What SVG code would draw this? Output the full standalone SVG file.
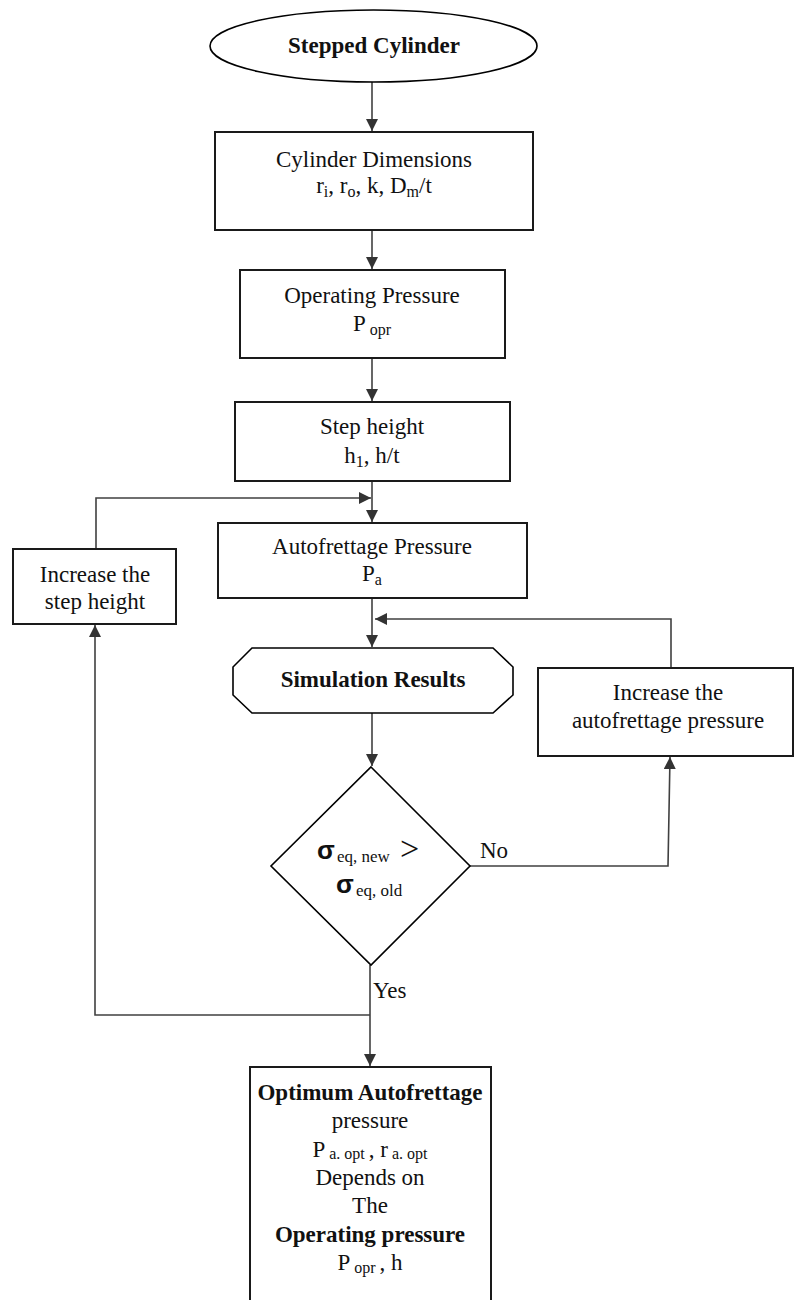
<svg xmlns="http://www.w3.org/2000/svg" width="794" height="1300" viewBox="0 0 794 1300">
<style>
.box{fill:#fff;stroke:#1a1a1a;stroke-width:2}
.shape{fill:#fff;stroke:#000;stroke-width:1.6}
.con{fill:none;stroke:#404040;stroke-width:1.6}
.t{font-family:"Liberation Serif","Times New Roman",serif;font-size:23px;fill:#111;text-anchor:middle}
.b{font-weight:bold}
.sub{font-size:16px}
.sig{font-family:"Liberation Sans",Arial,sans-serif;font-weight:bold;font-size:26px;fill:#111}
.st{font-family:"Liberation Serif","Times New Roman",serif;font-size:17px;fill:#111}
</style>
<defs>
<marker id="ah" viewBox="0 0 12 12" refX="12" refY="6" markerWidth="12" markerHeight="12" markerUnits="userSpaceOnUse" orient="auto">
<path d="M0,0 L12,6 L0,12 z" fill="#333"/>
</marker>
</defs>
<rect width="794" height="1300" fill="#fff"/>

<g id="connectors">
<line class="con" x1="372" y1="82" x2="372" y2="131" marker-end="url(#ah)"/>
<line class="con" x1="372" y1="230" x2="372" y2="269" marker-end="url(#ah)"/>
<line class="con" x1="372" y1="358" x2="372" y2="401" marker-end="url(#ah)"/>
<line class="con" x1="372" y1="481" x2="372" y2="522" marker-end="url(#ah)"/>
<polyline class="con" points="96,549 96,498 371,498" marker-end="url(#ah)"/>
<line class="con" x1="372" y1="598" x2="372" y2="647" marker-end="url(#ah)"/>
<polyline class="con" points="671,668 671,619 375,619" marker-end="url(#ah)"/>
<line class="con" x1="372" y1="713" x2="372" y2="766" marker-end="url(#ah)"/>
<polyline class="con" points="470,866 668,866 670,757" marker-end="url(#ah)"/>
<line class="con" x1="370" y1="965" x2="370" y2="1066" marker-end="url(#ah)"/>
<polyline class="con" points="370,1015 95,1015 95,625" marker-end="url(#ah)"/>
</g>

<g id="start">
<ellipse class="shape" cx="373.5" cy="46" rx="163.5" ry="36"/>
<text class="t b" x="374" y="53">Stepped Cylinder</text>
</g>

<g id="cyl-dim">
<rect class="box" x="215" y="132" width="318" height="98"/>
<text class="t" x="374" y="167">Cylinder Dimensions</text>
<text class="t" x="374" y="193">r<tspan class="sub" dy="4">i</tspan><tspan dy="-4">, r</tspan><tspan class="sub" dy="4">o</tspan><tspan dy="-4">, k, D</tspan><tspan class="sub" dy="4">m</tspan><tspan dy="-4">/t</tspan></text>
</g>

<g id="op-pressure">
<rect class="box" x="240" y="270" width="265" height="88"/>
<text class="t" x="372" y="303">Operating Pressure</text>
<text class="t" x="372" y="331">P<tspan class="sub" dy="4"> opr</tspan></text>
</g>

<g id="step-height">
<rect class="box" x="235" y="402" width="275" height="79"/>
<text class="t" x="372" y="434">Step height</text>
<text class="t" x="372" y="463">h<tspan class="sub" dy="4">1</tspan><tspan dy="-4">, h/t</tspan></text>
</g>

<g id="autofrettage">
<rect class="box" x="218" y="523" width="309" height="75"/>
<text class="t" x="372" y="554">Autofrettage Pressure</text>
<text class="t" x="372" y="581">P<tspan class="sub" dy="4">a</tspan></text>
</g>

<g id="inc-step">
<rect class="box" x="13" y="549" width="163" height="75"/>
<text class="t" x="95" y="582">Increase the</text>
<text class="t" x="95" y="609">step height</text>
</g>

<g id="simulation">
<polygon class="shape" points="252,648 493,648 513,667 513,695 493,713 252,713 233,695 233,667"/>
<text class="t b" x="373" y="687">Simulation Results</text>
</g>

<g id="inc-auto">
<rect class="box" x="538" y="668" width="255" height="88"/>
<text class="t" x="668" y="700">Increase the</text>
<text class="t" x="668" y="728">autofrettage pressure</text>
</g>

<g id="decision">
<polygon class="shape" points="371,767 470,866 371,965 271,866"/>
<text class="sig" x="317" y="859">σ</text>
<text class="st" x="337" y="862">eq, new</text>
<text class="t" x="400" y="860" style="text-anchor:start;font-size:34px">&gt;</text>
<text class="sig" x="336" y="893">σ</text>
<text class="st" x="356" y="896">eq, old</text>
</g>

<g id="labels">
<text class="t" x="480" y="858" style="text-anchor:start">No</text>
<text class="t" x="373" y="998" style="text-anchor:start">Yes</text>
</g>

<g id="optimum">
<path class="box" d="M250,1310 L250,1067 L491,1067 L491,1310"/>
<text class="t b" x="370" y="1100">Optimum Autofrettage</text>
<text class="t" x="370" y="1128">pressure</text>
<text class="t" x="370" y="1157">P<tspan class="sub" dy="2"> a. opt </tspan><tspan dy="-2">, r</tspan><tspan class="sub" dy="2"> a. opt</tspan></text>
<text class="t" x="370" y="1185">Depends on</text>
<text class="t" x="370" y="1213">The</text>
<text class="t b" x="370" y="1242">Operating pressure</text>
<text class="t" x="370" y="1270">P<tspan class="sub" dy="3"> opr </tspan><tspan dy="-3">, h</tspan></text>
</g>
</svg>
